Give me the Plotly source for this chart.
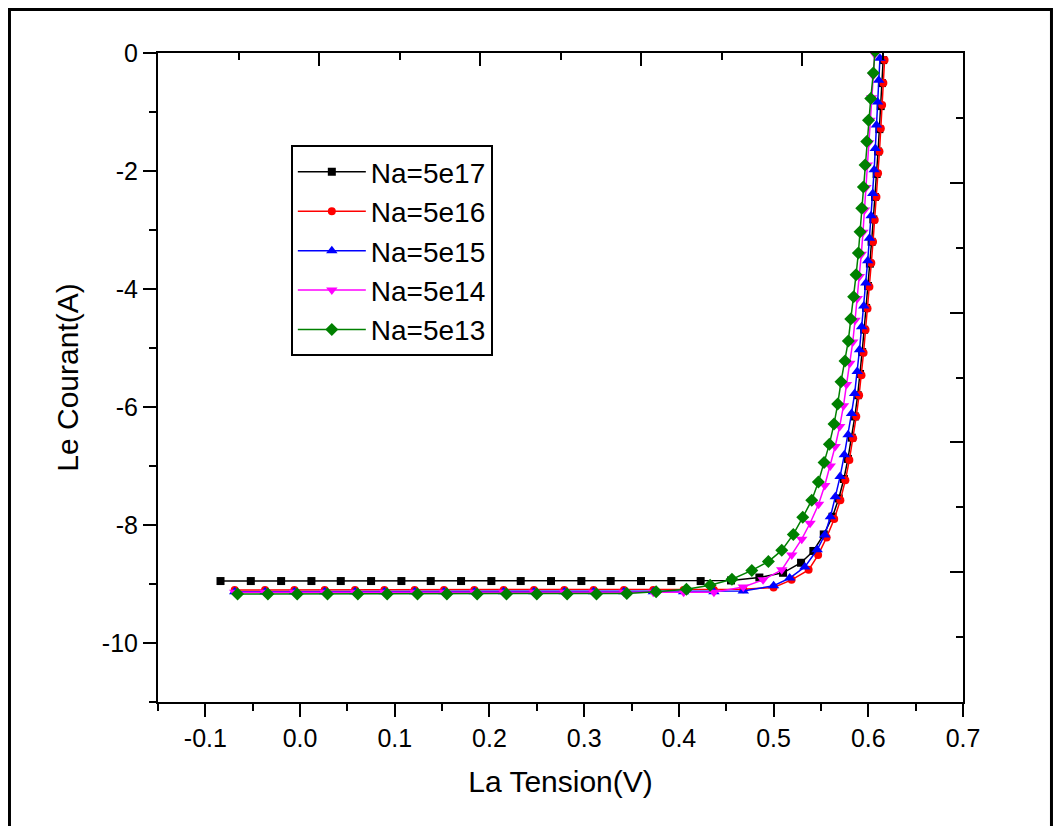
import plotly.graph_objects as go

series_names = ["Na=5e17", "Na=5e16", "Na=5e15", "Na=5e14", "Na=5e13"]

v_5e17 = [-0.084, -0.052, -0.020, 0.012, 0.043, 0.075, 0.107, 0.138, 0.170, 0.202,
          0.233, 0.265, 0.297, 0.328, 0.360, 0.392, 0.423, 0.455, 0.485, 0.510,
          0.529, 0.542, 0.5530, 0.5622, 0.5688, 0.5742, 0.5785, 0.5825, 0.5858, 0.5888,
          0.5913, 0.5935, 0.5956, 0.5977, 0.5997, 0.6017, 0.6035, 0.6053, 0.6071, 0.6088,
          0.6103, 0.6117, 0.6131, 0.6144, 0.6157]
i_5e17 = [-8.95, -8.95, -8.95, -8.95, -8.95, -8.95, -8.95, -8.95, -8.95, -8.95,
          -8.95, -8.95, -8.95, -8.95, -8.95, -8.95, -8.95, -8.94, -8.89, -8.81,
          -8.64, -8.44, -8.16, -7.86, -7.55, -7.22, -6.88, -6.52, -6.16, -5.80,
          -5.44, -5.07, -4.69, -4.32, -3.95, -3.57, -3.20, -2.82, -2.44, -2.05,
          -1.67, -1.29, -0.90, -0.51, -0.12]

v_5e16 = [-0.069, -0.037, -0.006, 0.026, 0.058, 0.089, 0.121, 0.152, 0.184, 0.215,
          0.247, 0.279, 0.310, 0.342, 0.373, 0.405, 0.437, 0.468, 0.500, 0.519,
          0.537, 0.547, 0.5560, 0.5640, 0.5705, 0.5758, 0.5800, 0.5840, 0.5873, 0.5903,
          0.5928, 0.5950, 0.5971, 0.5992, 0.6012, 0.6032, 0.6050, 0.6068, 0.6086, 0.6103,
          0.6118, 0.6132, 0.6146, 0.6159, 0.6172]
i_5e16 = [-9.10, -9.10, -9.10, -9.10, -9.10, -9.10, -9.10, -9.10, -9.10, -9.10,
          -9.10, -9.10, -9.10, -9.10, -9.10, -9.10, -9.10, -9.09, -9.06, -8.93,
          -8.76, -8.51, -8.21, -7.90, -7.58, -7.24, -6.90, -6.53, -6.16, -5.80,
          -5.46, -5.08, -4.69, -4.33, -3.96, -3.56, -3.20, -2.83, -2.44, -2.04,
          -1.67, -1.28, -0.88, -0.51, -0.12]

v_5e15 = [-0.069, -0.037, -0.006, 0.026, 0.058, 0.089, 0.121, 0.152, 0.184, 0.215,
          0.247, 0.279, 0.310, 0.342, 0.373, 0.405, 0.437, 0.468, 0.500, 0.517,
          0.533, 0.546, 0.5540, 0.5600, 0.5652, 0.5702, 0.5747, 0.5787, 0.5823, 0.5856,
          0.5883, 0.5907, 0.5930, 0.5952, 0.5974, 0.5994, 0.6012, 0.6030, 0.6047, 0.6062,
          0.6074, 0.6086, 0.6098, 0.6110, 0.6123]
i_5e15 = [-9.13, -9.13, -9.13, -9.13, -9.13, -9.13, -9.13, -9.13, -9.13, -9.13,
          -9.13, -9.13, -9.13, -9.13, -9.13, -9.13, -9.13, -9.12, -9.03, -8.90,
          -8.71, -8.42, -8.17, -7.86, -7.52, -7.18, -6.81, -6.47, -6.11, -5.77,
          -5.40, -5.03, -4.64, -4.29, -3.90, -3.52, -3.14, -2.76, -2.38, -1.98,
          -1.62, -1.22, -0.83, -0.46, -0.09]

v_5e14 = [-0.069, -0.037, -0.006, 0.026, 0.058, 0.089, 0.121, 0.152, 0.184, 0.215,
          0.247, 0.279, 0.310, 0.342, 0.373, 0.405, 0.437, 0.468, 0.4889, 0.5086,
          0.5192, 0.5297, 0.5385, 0.5475, 0.5540, 0.5598, 0.5650, 0.5698, 0.5738, 0.5770,
          0.5805, 0.5836, 0.5860, 0.5884, 0.5906, 0.5926, 0.5944, 0.5960, 0.5975, 0.5990,
          0.6004, 0.6018, 0.6035, 0.6050, 0.6068]
i_5e14 = [-9.14, -9.14, -9.14, -9.14, -9.14, -9.14, -9.14, -9.14, -9.14, -9.14,
          -9.14, -9.14, -9.14, -9.14, -9.14, -9.14, -9.14, -9.05, -8.93, -8.76,
          -8.51, -8.24, -7.97, -7.65, -7.33, -7.00, -6.67, -6.33, -5.98, -5.62,
          -5.26, -4.90, -4.53, -4.16, -3.79, -3.41, -3.04, -2.66, -2.28, -1.90,
          -1.52, -1.14, -0.76, -0.38, -0.02]

v_5e13 = [-0.066, -0.034, -0.003, 0.029, 0.061, 0.092, 0.124, 0.155, 0.187, 0.218,
          0.250, 0.282, 0.313, 0.345, 0.376, 0.408, 0.433, 0.456, 0.477, 0.4945,
          0.5086, 0.5208, 0.5308, 0.5403, 0.5473, 0.5533, 0.5589, 0.5638, 0.5677, 0.5712,
          0.5754, 0.5789, 0.5815, 0.5845, 0.5871, 0.5895, 0.5913, 0.5931, 0.5948, 0.5966,
          0.5984, 0.6002, 0.6026, 0.6053, 0.6071]
i_5e13 = [-9.17, -9.17, -9.17, -9.17, -9.17, -9.17, -9.17, -9.17, -9.17, -9.17,
          -9.17, -9.17, -9.17, -9.16, -9.13, -9.09, -9.02, -8.92, -8.77, -8.62,
          -8.43, -8.16, -7.87, -7.58, -7.27, -6.94, -6.63, -6.29, -5.95, -5.57,
          -5.22, -4.88, -4.51, -4.13, -3.76, -3.39, -3.03, -2.63, -2.27, -1.90,
          -1.50, -1.14, -0.77, -0.34, 0.03]

x_ticks = [-0.1, 0.0, 0.1, 0.2, 0.3, 0.4, 0.5, 0.6, 0.7]
x_tick_labels = ["-0.1", "0.0", "0.1", "0.2", "0.3", "0.4", "0.5", "0.6", "0.7"]
x_minor = [-0.15, -0.05, 0.05, 0.15, 0.25, 0.35, 0.45, 0.55, 0.65]
y_ticks = [-10, -8, -6, -4, -2, 0]
y_tick_labels = ["-10", "-8", "-6", "-4", "-2", "0"]
y_minor = [-11, -9, -7, -5, -3, -1]

colors = ["#000000", "#FF0000", "#0000FF", "#FF00FF", "#008000"]
symbols = ["square", "circle", "triangle-up", "triangle-down", "diamond"]
sizes = [8, 8, 10, 10, 10]

V = [v_5e17, v_5e16, v_5e15, v_5e14, v_5e13]
I = [i_5e17, i_5e16, i_5e15, i_5e14, i_5e13]

FONT = "Arial, 'Liberation Sans', sans-serif"

fig = go.Figure()
for k in range(5):
    fig.add_trace(go.Scatter(
        x=V[k], y=I[k], mode="lines+markers", name=series_names[k],
        legendgroup=series_names[k],
        line=dict(color=colors[k], width=1.5),
        marker=dict(symbol=symbols[k], size=sizes[k], color=colors[k]),
    ))

# phantom trace to hold the top/right tick axes
fig.add_trace(go.Scatter(x=[], y=[], xaxis="x2", yaxis="y2", showlegend=False,
                         hoverinfo="skip"))

axis_common = dict(showgrid=False, zeroline=False, showline=True, linecolor="black",
                   linewidth=2, mirror=True, ticks="outside", ticklen=13, tickwidth=2,
                   tickcolor="black", tickfont=dict(family=FONT, size=25, color="black"))

fig.update_layout(
    width=1045, height=818,
    margin=dict(l=150, r=90, t=45, b=124),
    paper_bgcolor="white", plot_bgcolor="white",
    font=dict(family=FONT, color="black"),
    xaxis=dict(range=[-0.15, 0.7], tickmode="array", tickvals=x_ticks, ticktext=x_tick_labels,
               minor=dict(tickvals=x_minor, ticks="outside", ticklen=7, tickwidth=2, tickcolor="black"),
               title=dict(text="La Tension(V)", font=dict(family=FONT, size=30), standoff=20),
               **axis_common),
    yaxis=dict(range=[-11, 0], tickmode="array", tickvals=y_ticks, ticktext=y_tick_labels,
               minor=dict(tickvals=y_minor, ticks="outside", ticklen=7, tickwidth=2, tickcolor="black"),
               title=dict(text="Le Courant(A)", font=dict(family=FONT, size=30), standoff=14),
               **axis_common),
    xaxis2=dict(overlaying="x", side="top", range=[0, 5], tickmode="array",
                tickvals=[0, 1, 2, 3, 4, 5], showticklabels=False, ticks="inside",
                ticklen=13, tickwidth=2, tickcolor="black", showgrid=False, zeroline=False,
                showline=False,
                minor=dict(tickvals=[0.5, 1.5, 2.5, 3.5, 4.5], ticks="inside", ticklen=7,
                           tickwidth=2, tickcolor="black")),
    yaxis2=dict(overlaying="y", side="right", range=[0, 5], tickmode="array",
                tickvals=[0, 1, 2, 3, 4, 5], showticklabels=False, ticks="inside",
                ticklen=13, tickwidth=2, tickcolor="black", showgrid=False, zeroline=False,
                showline=False,
                minor=dict(tickvals=[0.5, 1.5, 2.5, 3.5, 4.5], ticks="inside", ticklen=7,
                           tickwidth=2, tickcolor="black")),
    legend=dict(x=0.165, y=0.858, xanchor="left", yanchor="top",
                bgcolor="white", bordercolor="black", borderwidth=2,
                font=dict(family=FONT, size=28, color="black"),
                tracegroupgap=0, itemwidth=68, entrywidth=150),
    showlegend=True,
    shapes=[dict(type="rect", xref="paper", yref="paper",
                 x0=-0.1845, x1=1.1099, y0=-0.2096, y1=1.0670,
                 line=dict(color="black", width=3), fillcolor="rgba(0,0,0,0)", layer="below")],
)

fig.write_html("out.html")
